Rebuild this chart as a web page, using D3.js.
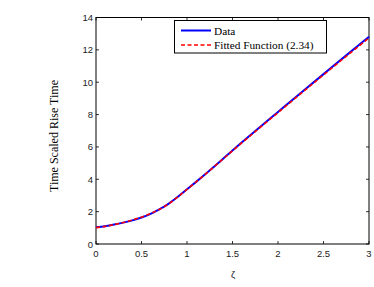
<!DOCTYPE html>
<html>
<head>
<meta charset="utf-8">
<script src="https://cdn.jsdelivr.net/npm/d3@7"></script>
<style>
  body { margin: 0; background: #fff; }
  .tick-label { font-family: "Liberation Sans", Arial, sans-serif; font-size: 9.5px; fill: #222; }
  .serif { font-family: "Liberation Serif", "Times New Roman", serif; fill: #000; }
</style>
</head>
<body>
<svg id="chart" width="374" height="287"></svg>
<script>
// values
const zeta = [0, 0.1, 0.2, 0.3, 0.4, 0.5, 0.6, 0.7, 0.8, 0.9, 1.0, 1.1, 1.2, 1.3, 1.4, 1.5, 1.75, 2.0, 2.25, 2.5, 2.75, 3.0];
const dataRise = [1.03, 1.10, 1.20, 1.32, 1.46, 1.64, 1.86, 2.15, 2.50, 2.92, 3.38, 3.84, 4.31, 4.79, 5.28, 5.78, 6.98, 8.16, 9.34, 10.5, 11.66, 12.81];
const fitRise = [1.01, 1.09, 1.20, 1.33, 1.48, 1.66, 1.88, 2.15, 2.49, 2.91, 3.37, 3.84, 4.31, 4.79, 5.27, 5.76, 6.95, 8.12, 9.29, 10.45, 11.6, 12.74];
const xTicks = [0, 0.5, 1, 1.5, 2, 2.5, 3];
const yTicks = [0, 2, 4, 6, 8, 10, 12, 14];
const legendNames = ['Data', 'Fitted Function (2.34)'];

const svg = d3.select('#chart');
const plotLeft = 96, plotRight = 369, plotTop = 17.5, plotBottom = 244;

const x = d3.scaleLinear().domain([0, 3]).range([plotLeft, plotRight]);
const y = d3.scaleLinear().domain([0, 14]).range([plotBottom, plotTop]);

// box
svg.append('rect')
  .attr('x', plotLeft).attr('y', plotTop)
  .attr('width', plotRight - plotLeft).attr('height', plotBottom - plotTop)
  .attr('fill', 'none').attr('stroke', '#000').attr('stroke-width', 1);

// inward ticks on all four sides
const tickLen = 3;
const ticks = svg.append('g').attr('stroke', '#000').attr('stroke-width', 0.8);
xTicks.forEach((t) => {
  ticks.append('line').attr('x1', x(t)).attr('x2', x(t)).attr('y1', plotBottom).attr('y2', plotBottom - tickLen);
  ticks.append('line').attr('x1', x(t)).attr('x2', x(t)).attr('y1', plotTop).attr('y2', plotTop + tickLen);
});
yTicks.forEach((t) => {
  ticks.append('line').attr('x1', plotLeft).attr('x2', plotLeft + tickLen).attr('y1', y(t)).attr('y2', y(t));
  ticks.append('line').attr('x1', plotRight).attr('x2', plotRight - tickLen).attr('y1', y(t)).attr('y2', y(t));
});

// tick labels
svg.selectAll('.xl').data(xTicks).enter().append('text')
  .attr('class', 'tick-label')
  .attr('x', (d) => x(d)).attr('y', plotBottom + 13)
  .attr('text-anchor', 'middle')
  .text((d) => d);

svg.selectAll('.yl').data(yTicks).enter().append('text')
  .attr('class', 'tick-label')
  .attr('x', plotLeft - 3).attr('y', (d) => y(d) + 3.5)
  .attr('text-anchor', 'end')
  .text((d) => d);

// axis labels
svg.append('text')
  .attr('class', 'tick-label')
  .attr('x', 233).attr('y', 278)
  .attr('text-anchor', 'middle')
  .attr('font-size', 10)
  .text('ζ');

svg.append('text')
  .attr('class', 'serif')
  .attr('transform', 'translate(58,136) rotate(-90)')
  .attr('text-anchor', 'middle')
  .attr('font-size', 12)
  .text('Time Scaled Rise Time');

// curves
const line = d3.line().curve(d3.curveCatmullRom);

svg.append('path')
  .attr('d', line(zeta.map((z, i) => [x(z), y(dataRise[i])])))
  .attr('fill', 'none')
  .attr('stroke', '#0000ff')
  .attr('stroke-width', 2);

svg.append('path')
  .attr('d', line(zeta.map((z, i) => [x(z), y(fitRise[i])])))
  .attr('fill', 'none')
  .attr('stroke', '#ff0000')
  .attr('stroke-width', 1.6)
  .attr('stroke-dasharray', '4,2.5');

// legend
const legend = svg.append('g');
legend.append('rect')
  .attr('x', 174.5).attr('y', 20.5)
  .attr('width', 152).attr('height', 32.5)
  .attr('fill', '#fff').attr('stroke', '#000').attr('stroke-width', 1);

const legendStyles = [
  { color: '#0000ff', width: 2, dash: null },
  { color: '#ff0000', width: 1.6, dash: '4,2.5' },
];
legendNames.forEach((name, i) => {
  const ly = 30.5 + i * 14.5;
  legend.append('line')
    .attr('x1', 181).attr('x2', 211)
    .attr('y1', ly).attr('y2', ly)
    .attr('stroke', legendStyles[i].color)
    .attr('stroke-width', legendStyles[i].width)
    .attr('stroke-dasharray', legendStyles[i].dash);
  legend.append('text')
    .attr('class', 'serif')
    .attr('x', 214).attr('y', ly + 4)
    .attr('font-size', 11.3)
    .text(name);
});
</script>
</body>
</html>
